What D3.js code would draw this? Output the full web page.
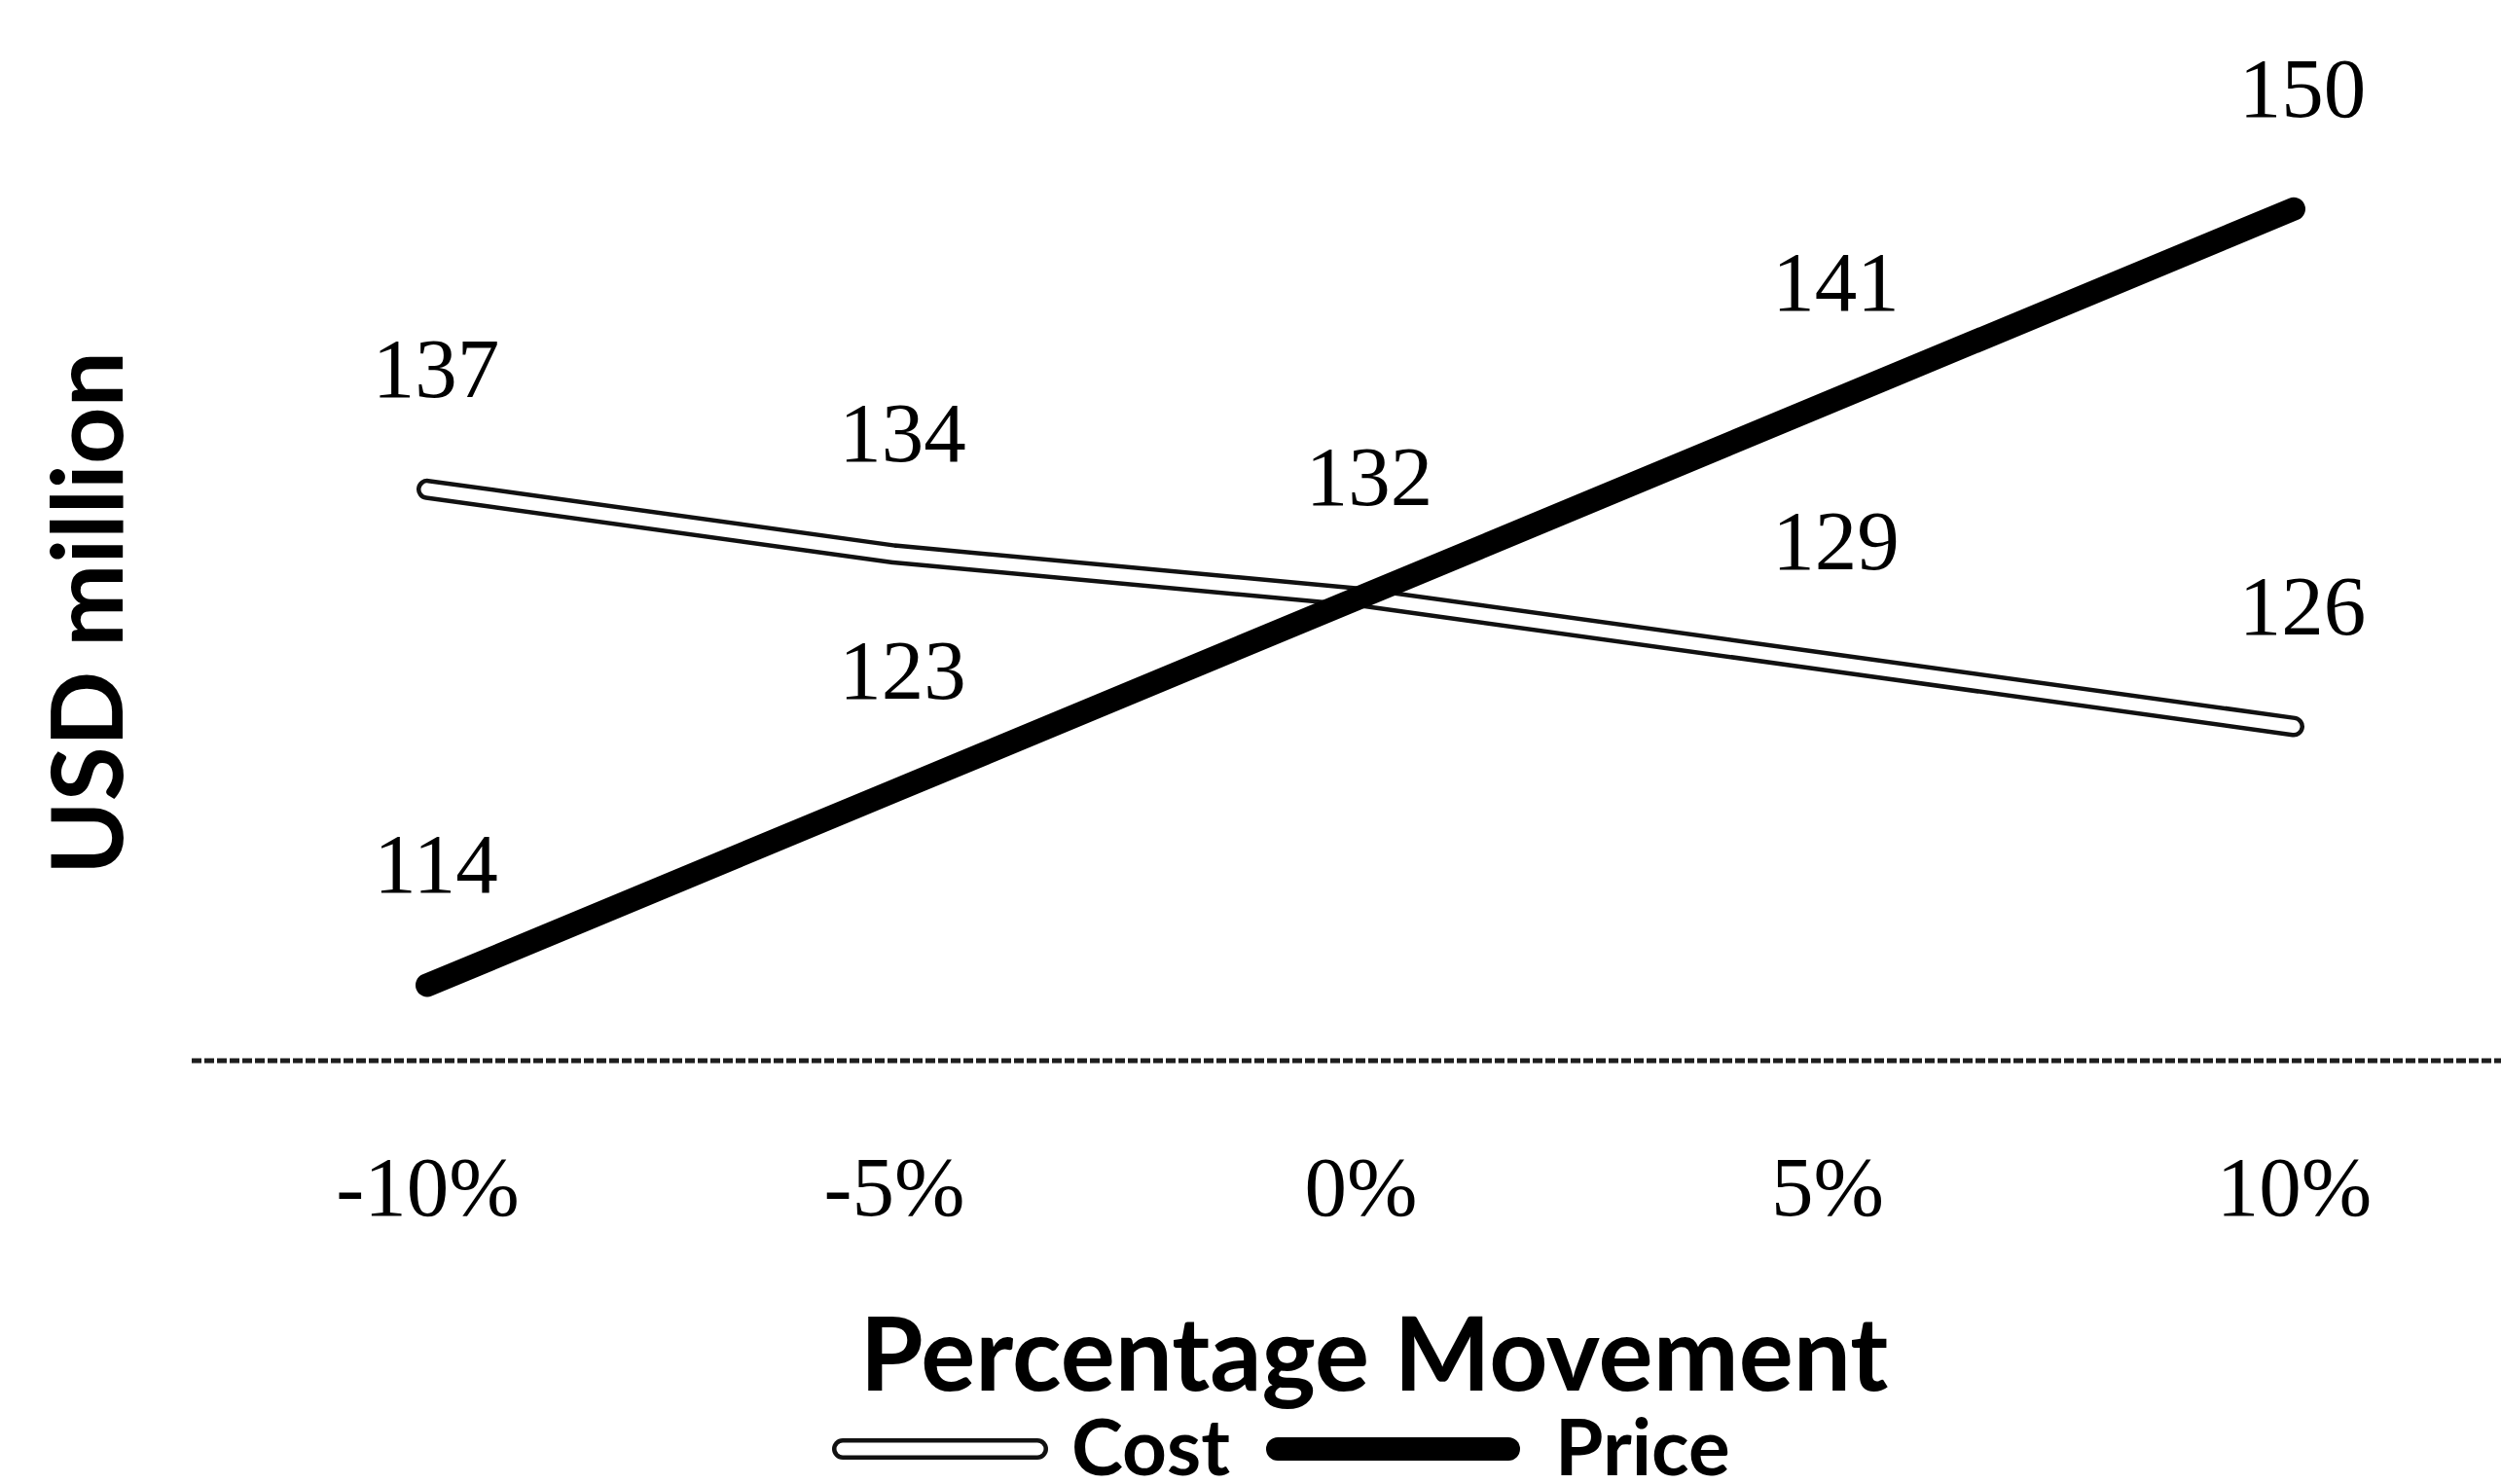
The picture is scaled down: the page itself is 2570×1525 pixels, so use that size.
<!DOCTYPE html>
<html>
<head>
<meta charset="utf-8">
<script src="https://cdn.jsdelivr.net/npm/d3@7"></script>
<style>
  html, body { margin: 0; padding: 0; background: #fff; }
  svg { display: block; }
</style>
</head>
<body>
<script>
// Sensitivity of the result (USD million) to a percentage movement in cost or price
const categories = ["-10%", "-5%", "0%", "5%", "10%"];
const costValues = [137, 134, 132, 129, 126];
const priceValues = [114, 123, 132, 141, 150];
const seriesNames = ["Cost", "Price"];

const W = 2570, H = 1525;
const svg = d3.select("body").append("svg").attr("width", W).attr("height", H);

const x = d3.scalePoint().domain(categories).range([439, 2357]);
const y = d3.scaleLinear().domain([110.5, 155]).range([1090, 104]);

const serif = "'Liberation Serif', 'Times New Roman', serif";
const sans = "Lato, 'Noto Sans', sans-serif";

// category axis line across the width
svg.append("line")
  .attr("x1", 197).attr("x2", W)
  .attr("y1", y(110.5)).attr("y2", y(110.5))
  .attr("stroke", "#1e1e1e").attr("stroke-width", 5)
  .attr("stroke-dasharray", "10 3");

// tick labels
const axis = d3.axisBottom(x).tickSize(0).tickPadding(0);
const gx = svg.append("g").attr("transform", `translate(0,${y(110.5)})`).call(axis);
gx.select(".domain").remove();
gx.selectAll(".tick text")
  .attr("y", 159).attr("dy", 0)
  .attr("font-family", serif).attr("font-size", 87).attr("fill", "#000");

const line = d3.line().x((d, i) => x(categories[i])).y(d => y(d));

// Cost: hollow line (outline + white core)
svg.append("path").datum(costValues).attr("d", line)
  .attr("fill", "none").attr("stroke", "#111").attr("stroke-width", 22)
  .attr("stroke-linecap", "round").attr("stroke-linejoin", "round");
svg.append("path").datum(costValues).attr("d", line)
  .attr("fill", "none").attr("stroke", "#fff").attr("stroke-width", 13)
  .attr("stroke-linecap", "round").attr("stroke-linejoin", "round");

// Price: thick solid line
svg.append("path").datum(priceValues).attr("d", line)
  .attr("fill", "none").attr("stroke", "#000").attr("stroke-width", 24)
  .attr("stroke-linecap", "round").attr("stroke-linejoin", "round");

// value labels above each point (shared value shown once)
const labels = [];
priceValues.forEach((v, i) => labels.push({ c: categories[i], v }));
costValues.forEach((v, i) => { if (v !== priceValues[i]) labels.push({ c: categories[i], v }); });
svg.append("g").selectAll("text").data(labels).join("text")
  .attr("x", d => x(d.c) + 9)
  .attr("y", d => y(d.v) - 95)
  .attr("text-anchor", "middle")
  .attr("font-family", serif).attr("font-size", 87).attr("fill", "#000")
  .text(d => d.v);

// axis titles
svg.append("text")
  .attr("x", 1412).attr("y", 1429)
  .attr("text-anchor", "middle")
  .attr("font-family", sans).attr("font-weight", 700).attr("font-size", 105)
  .text("Percentage Movement");

svg.append("text")
  .attr("transform", "translate(126,630) rotate(-90)")
  .attr("text-anchor", "middle")
  .attr("font-family", sans).attr("font-weight", 700).attr("font-size", 102)
  .text("USD million");

// legend
const legend = svg.append("g");
const legendItems = [
  { name: seriesNames[0], x0: 866, x1: 1066, tx: 1101 },
  { name: seriesNames[1], x0: 1313, x1: 1550, tx: 1598 }
];
const ly = 1489;
legend.append("line").attr("x1", legendItems[0].x0).attr("x2", legendItems[0].x1)
  .attr("y1", ly).attr("y2", ly)
  .attr("stroke", "#111").attr("stroke-width", 22).attr("stroke-linecap", "round");
legend.append("line").attr("x1", legendItems[0].x0).attr("x2", legendItems[0].x1)
  .attr("y1", ly).attr("y2", ly)
  .attr("stroke", "#fff").attr("stroke-width", 13).attr("stroke-linecap", "round");
legend.append("line").attr("x1", legendItems[1].x0).attr("x2", legendItems[1].x1)
  .attr("y1", ly).attr("y2", ly)
  .attr("stroke", "#000").attr("stroke-width", 24).attr("stroke-linecap", "round");
legend.selectAll("text").data(legendItems).join("text")
  .attr("x", d => d.tx).attr("y", 1516)
  .attr("font-family", sans).attr("font-weight", 700).attr("font-size", 80)
  .text(d => d.name);
</script>
</body>
</html>
